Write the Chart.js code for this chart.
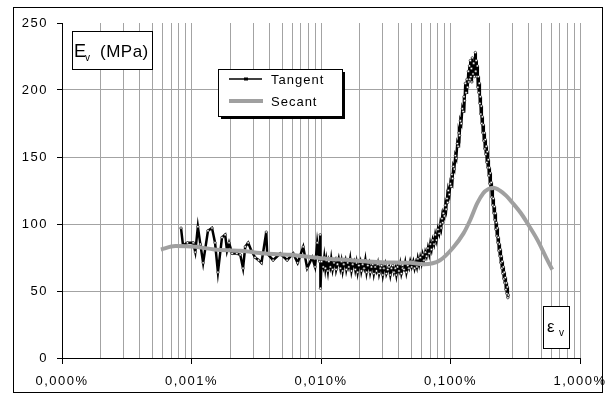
<!DOCTYPE html>
<html>
<head>
    <title>Ev tangent / secant</title>
    <style>
        body {
            margin: 0;
            background-color: #fff;
        }
        #chart {
            display: block;
        }
    </style>
</head>
<body>
    <canvas id="chart" width="606" height="396"></canvas>

    <script src="https://cdn.jsdelivr.net/npm/chart.js"></script>
    <script>
// strain in %, modulus in MPa -- [x, y] pairs
const tangentNoisy = [
  [0.00083, 97], [0.00086, 84], [0.00093, 86], [0.00103, 86], [0.00107, 79], [0.00112, 98],
  [0.00117, 85], [0.00123, 71], [0.00134, 95], [0.00144, 97], [0.00152, 86], [0.00160, 64],
  [0.00172, 90], [0.00182, 92], [0.00188, 80], [0.00195, 86], [0.00206, 78], [0.00224, 78],
  [0.00238, 77], [0.00250, 67], [0.00260, 83], [0.00274, 86], [0.00290, 80], [0.00310, 75],
  [0.00330, 73], [0.00347, 71], [0.00378, 94], [0.00384, 78], [0.00427, 73], [0.00484, 78],
  [0.00548, 73], [0.00610, 78], [0.00660, 71], [0.00729, 83], [0.00782, 67], [0.00855, 75],
  [0.00900, 68], [0.00935, 86], [0.00975, 72], [0.00986, 92], [0.00990, 52], [0.0101, 72]
];
const tangentPlateau = [
  [0.0104, 68], [0.0106, 75], [0.0108, 67], [0.0110, 73], [0.0113, 65], [0.0115, 72],
  [0.0118, 68], [0.0120, 74], [0.0123, 66], [0.0126, 71], [0.0129, 73], [0.0131, 66],
  [0.0134, 70], [0.0137, 74], [0.0141, 67], [0.0144, 72], [0.0147, 65], [0.0150, 70],
  [0.0154, 73], [0.0157, 66], [0.0161, 71], [0.0164, 68], [0.0168, 74], [0.0172, 65],
  [0.0176, 70], [0.0180, 72], [0.0184, 66], [0.0188, 71], [0.0192, 64], [0.0196, 69],
  [0.0201, 72], [0.0205, 65], [0.0210, 70], [0.0215, 67], [0.0220, 73], [0.0225, 64],
  [0.0230, 69], [0.0235, 71], [0.0240, 64], [0.0245, 68], [0.0251, 70], [0.0256, 63],
  [0.0262, 68], [0.0268, 65], [0.0275, 70], [0.0281, 63], [0.0287, 67], [0.0293, 69],
  [0.0300, 62], [0.0306, 67], [0.0313, 70], [0.0320, 63], [0.0328, 66], [0.0335, 68],
  [0.0343, 62], [0.0350, 67], [0.0358, 69], [0.0366, 64], [0.0375, 67], [0.0382, 62],
  [0.0390, 68], [0.0400, 65], [0.0409, 70], [0.0418, 63], [0.0428, 67], [0.0437, 66],
  [0.0447, 71], [0.0457, 64], [0.0468, 69], [0.0478, 67], [0.0489, 72], [0.0502, 68]
];
const tangentRise = [
  [0.0516, 72], [0.0528, 67], [0.0540, 71], [0.0550, 68], [0.0560, 74], [0.0572, 70],
  [0.0584, 75], [0.0597, 71], [0.0610, 77], [0.0624, 73], [0.0639, 79], [0.0654, 76],
  [0.0670, 82], [0.0684, 78], [0.0698, 85], [0.0714, 81], [0.0730, 88], [0.0746, 85],
  [0.0763, 92], [0.0780, 88], [0.0800, 96], [0.0817, 93], [0.0834, 100], [0.0847, 97],
  [0.0860, 104], [0.0870, 101], [0.0880, 108], [0.0896, 106], [0.0912, 114], [0.0926, 111],
  [0.0940, 119], [0.0951, 116], [0.0962, 125], [0.0980, 122], [0.0997, 130], [0.1011, 128],
  [0.1025, 137], [0.1038, 134], [0.1051, 143], [0.1070, 141], [0.1089, 151], [0.1108, 149],
  [0.1128, 160], [0.1145, 158], [0.1162, 168], [0.1176, 166], [0.1191, 177], [0.1212, 175],
  [0.1234, 186], [0.1252, 184], [0.1270, 195], [0.1285, 192]
];
const tangentPeak = [
  [0.1301, 205], [0.1320, 198], [0.1340, 208], [0.1356, 202], [0.1373, 214], [0.1386, 206],
  [0.1400, 218], [0.1411, 208], [0.1422, 222], [0.1436, 210], [0.1450, 216], [0.1462, 206],
  [0.1474, 224], [0.1492, 212], [0.1510, 220], [0.1532, 210], [0.1555, 228], [0.1568, 214],
  [0.1580, 222], [0.1595, 210], [0.1611, 218], [0.1625, 202]
];
const tangentFall = [
  [0.1639, 210], [0.1655, 198], [0.1670, 205], [0.1685, 190], [0.1699, 195], [0.1715, 182],
  [0.1730, 188], [0.1745, 175], [0.1761, 180], [0.1776, 168], [0.1792, 174], [0.1808, 162],
  [0.1825, 168], [0.1841, 156], [0.1857, 163], [0.1873, 152], [0.1890, 158], [0.1907, 146],
  [0.1924, 154], [0.1941, 142], [0.1959, 148], [0.1977, 136], [0.1995, 142], [0.2012, 130],
  [0.2030, 138], [0.2047, 126], [0.2065, 131], [0.2085, 120], [0.2104, 126], [0.2122, 114],
  [0.2140, 119], [0.2160, 108], [0.2181, 113], [0.2200, 103], [0.2220, 108], [0.2240, 96],
  [0.2260, 101], [0.2280, 91], [0.2300, 97], [0.2320, 86], [0.2340, 90], [0.2362, 80],
  [0.2384, 85], [0.2405, 76], [0.2425, 81], [0.2448, 71], [0.2470, 76], [0.2490, 67],
  [0.2510, 72], [0.2535, 63], [0.2559, 68], [0.2580, 59], [0.2600, 64], [0.2626, 56],
  [0.2652, 60], [0.2676, 51], [0.2700, 56], [0.2725, 48], [0.2748, 53], [0.2772, 45],
  [0.2797, 47]
];

const secantX = [
  0.00058, 0.00075, 0.00107, 0.0015, 0.0024, 0.0037, 0.0058, 0.0099, 0.017, 0.029,
  0.049, 0.062, 0.083, 0.105, 0.126, 0.142, 0.161, 0.179, 0.195, 0.214,
  0.24, 0.27, 0.30, 0.35, 0.39, 0.47, 0.56, 0.61
];
const secantY = [
  81, 83.5, 83, 81, 80, 78, 77, 74.5, 73, 71.5,
  71, 70, 73, 82.5, 93, 103, 115.5, 123, 126, 127,
  125, 121, 116, 108, 101, 88, 73, 66
];

const decades = [0.0001, 0.001, 0.01, 0.1, 1];
const yTicks = [0, 50, 100, 150, 200, 250];
const seriesNames = ['Tangent', 'Secant'];

const FONT = "'Liberation Sans', Arial, sans-serif";
const GRID = '#a3a3a3';

const tangentPairs = [].concat(tangentNoisy, tangentPlateau, tangentRise, tangentPeak, tangentFall);

function isDecade(v) {
  const l = Math.log10(v);
  return Math.abs(l - Math.round(l)) < 1e-9;
}

// 1..9 for every decade
const xTickValues = [];
for (let i = 0; i < decades.length - 1; i++) {
  for (let m = 1; m <= 9; m++) {
    xTickValues.push(+(m * decades[i]).toPrecision(6));
  }
}
xTickValues.push(decades[decades.length - 1]);

const overlay = {
  id: 'overlay',
  beforeDraw(chart) {
    chart.ctx.letterSpacing = '1.5px';
  },
  afterDraw(chart) {
    const c = chart.ctx;
    c.save();
    c.letterSpacing = '0px';
    c.strokeStyle = '#000';
    c.lineWidth = 1;

    // outer frame
    c.strokeRect(13.5, 7.5, 589, 385);

    // Ev (MPa) box
    c.fillStyle = '#fff';
    c.fillRect(72, 31, 80, 38);
    c.strokeRect(72.5, 31.5, 80, 38);
    c.fillStyle = '#000';
    c.textBaseline = 'alphabetic';
    c.textAlign = 'left';
    c.font = '18px ' + FONT;
    c.fillText('E', 74, 57);
    c.font = '10px ' + FONT;
    c.fillText('v', 85, 61);
    c.font = '17px ' + FONT;
    c.letterSpacing = '0.5px';
    c.fillText('(MPa)', 100, 57);
    c.letterSpacing = '0px';

    // legend box with shadow
    c.fillStyle = '#000';
    c.fillRect(221, 72, 124, 47);
    c.fillStyle = '#fff';
    c.fillRect(218, 69, 124, 47);
    c.strokeRect(218.5, 69.5, 124, 47);

    c.strokeStyle = '#000';
    c.lineWidth = 1.5;
    c.beginPath();
    c.moveTo(229, 79);
    c.lineTo(262, 79);
    c.stroke();
    c.fillStyle = '#000';
    c.fillRect(244, 77.5, 4, 3);

    c.strokeStyle = '#a0a0a0';
    c.lineWidth = 4;
    c.beginPath();
    c.moveTo(229, 101);
    c.lineTo(263, 101);
    c.stroke();

    c.fillStyle = '#000';
    c.font = '13px ' + FONT;
    c.letterSpacing = '1px';
    c.fillText(seriesNames[0], 271, 84);
    c.fillText(seriesNames[1], 271, 106);
    c.letterSpacing = '0px';

    // strain box
    c.strokeStyle = '#000';
    c.lineWidth = 1;
    c.fillStyle = '#fff';
    c.fillRect(543, 306, 26, 42);
    c.strokeRect(543.5, 306.5, 26, 42);
    c.fillStyle = '#000';
    c.font = '17px ' + FONT;
    c.fillText('\u03b5', 547, 332);
    c.font = '10px ' + FONT;
    c.fillText('v', 559, 336);

    c.restore();
  }
};

const ctx = document.getElementById('chart').getContext('2d');

new Chart(ctx, {
  type: 'scatter',
  data: {
    datasets: [
      {
        label: seriesNames[1],
        data: secantX.map((x, i) => ({ x: x, y: secantY[i] })),
        showLine: true,
        borderColor: '#a0a0a0',
        borderWidth: 4,
        pointRadius: 0,
        tension: 0.4,
        cubicInterpolationMode: 'monotone',
        order: 0
      },
      {
        label: seriesNames[0],
        data: tangentPairs.map(p => ({ x: p[0], y: p[1] })),
        showLine: true,
        borderColor: '#000',
        borderWidth: 2.5,
        pointRadius: 1.2,
        pointBorderWidth: 0.6,
        pointBackgroundColor: '#fff',
        pointBorderColor: '#000',
        tension: 0,
        order: 1
      }
    ]
  },
  options: {
    responsive: false,
    animation: false,
    layout: {
      padding: { top: 23, right: 26, bottom: 0, left: 0 }
    },
    plugins: {
      legend: { display: false },
      tooltip: { enabled: false }
    },
    scales: {
      x: {
        type: 'logarithmic',
        min: decades[0],
        max: decades[decades.length - 1],
        afterBuildTicks(scale) {
          scale.ticks = xTickValues.map(v => ({ value: v, major: isDecade(v) }));
        },
        afterFit(scale) {
          scale.height = 38;
          scale.paddingLeft = 0;
          scale.paddingRight = 0;
        },
        border: { color: '#000', width: 1 },
        grid: {
          color: GRID,
          lineWidth: 1,
          tickLength: 6,
          tickColor: (c) => (c.tick && isDecade(c.tick.value) ? '#000' : 'rgba(0,0,0,0)')
        },
        ticks: {
          autoSkip: false,
          maxRotation: 0,
          minRotation: 0,
          padding: 10,
          color: '#000',
          font: { family: FONT, size: 13 },
          callback: (v) => (isDecade(v) ? v.toFixed(3).replace('.', ',') + '%' : '')
        }
      },
      y: {
        min: yTicks[0],
        max: yTicks[yTicks.length - 1],
        afterBuildTicks(scale) {
          scale.ticks = yTicks.map(v => ({ value: v }));
        },
        afterFit(scale) {
          scale.width = 62;
        },
        border: { color: '#000', width: 1 },
        grid: {
          color: (c) => (c.tick && (c.tick.value === yTicks[0] || c.tick.value === yTicks[yTicks.length - 1]) ? 'rgba(0,0,0,0)' : GRID),
          lineWidth: 1,
          tickLength: 5,
          tickColor: '#000'
        },
        ticks: {
          padding: 9,
          color: '#000',
          font: { family: FONT, size: 13 }
        }
      }
    }
  },
  plugins: [overlay]
});
    </script>
</body>
</html>
